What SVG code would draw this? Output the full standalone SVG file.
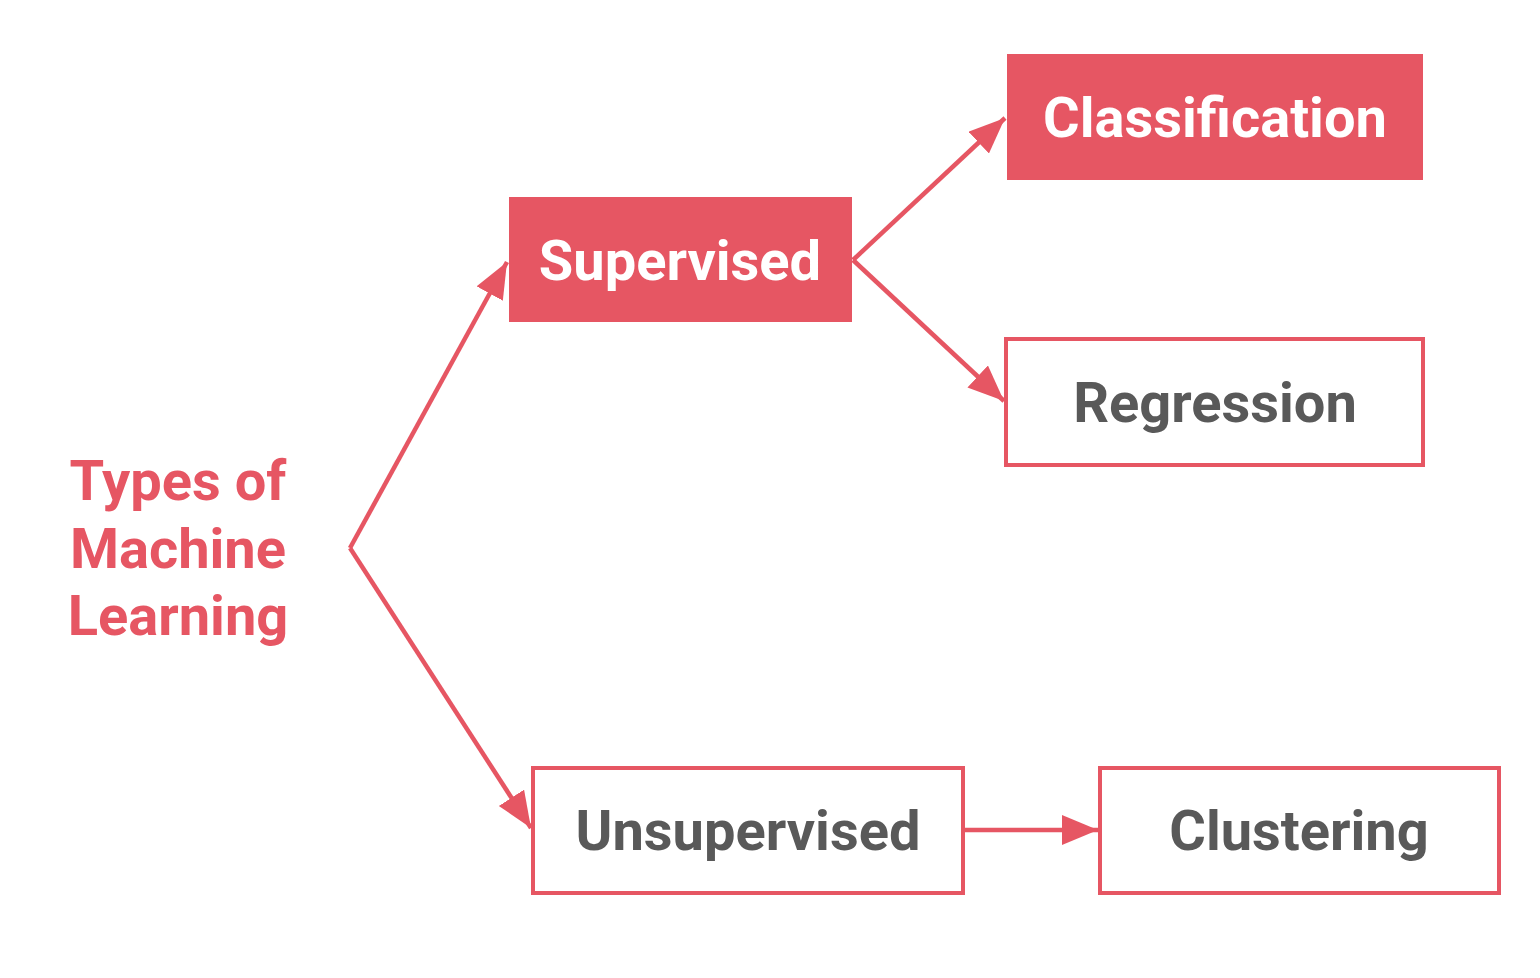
<svg xmlns="http://www.w3.org/2000/svg" width="1540" height="978" viewBox="0 0 1540 978">
<style>
.fill{fill:#E65663}
.out{fill:#fff;stroke:#E65663;stroke-width:4}
.t{font-family:Roboto,"Liberation Sans",sans-serif;font-weight:bold;font-size:56px;text-anchor:middle}
.w{fill:#fff}
.g{fill:#595959}
.r{fill:#E65663}
.c{fill:none;stroke:#E65663;stroke-width:4.5}
</style>
<defs>
<marker id="ah" markerUnits="userSpaceOnUse" markerWidth="40" markerHeight="32" refX="36" refY="15" orient="auto">
<path d="M0,0 L36,15 L0,30 Z" fill="#E65663"/>
</marker>
</defs>
<rect width="1540" height="978" fill="#fff"/>
<g id="connectors">
<path class="c" d="M350,548 L507,262" marker-end="url(#ah)"/>
<path class="c" d="M350,548 L531,828" marker-end="url(#ah)"/>
<path class="c" d="M853,260 L1005,118" marker-end="url(#ah)"/>
<path class="c" d="M853,260 L1004,401" marker-end="url(#ah)"/>
<path class="c" d="M964,830 L1098,830" marker-end="url(#ah)"/>
</g>
<g id="root">
<text class="t r" x="178" y="500">Types of</text>
<text class="t r" x="178" y="568">Machine</text>
<text class="t r" x="178" y="635">Learning</text>
</g>
<g id="supervised">
<rect class="fill" x="509" y="197" width="343" height="125"/>
<text class="t w" x="680" y="280">Supervised</text>
</g>
<g id="classification">
<rect class="fill" x="1007" y="54" width="416" height="126"/>
<text class="t w" x="1215" y="137">Classification</text>
</g>
<g id="regression">
<rect class="out" x="1006" y="339" width="417" height="126"/>
<text class="t g" x="1215" y="422">Regression</text>
</g>
<g id="unsupervised">
<rect class="out" x="533" y="768" width="430" height="125"/>
<text class="t g" x="748" y="850">Unsupervised</text>
</g>
<g id="clustering">
<rect class="out" x="1100" y="768" width="399" height="125"/>
<text class="t g" x="1299" y="850">Clustering</text>
</g>
</svg>
